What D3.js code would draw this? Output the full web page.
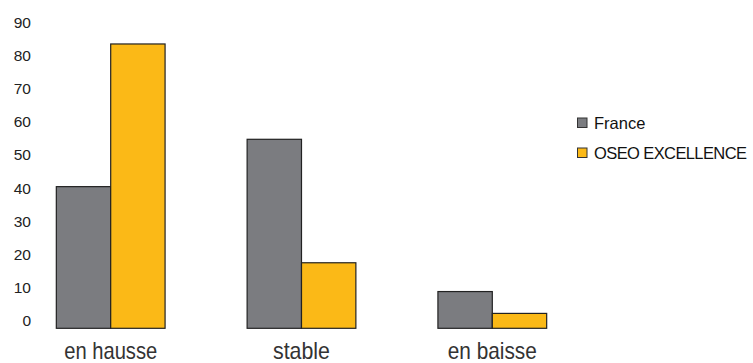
<!DOCTYPE html>
<html>
<head>
<meta charset="utf-8">
<script src="https://cdn.jsdelivr.net/npm/d3@7/dist/d3.min.js"></script>
<style>
  html, body { margin: 0; padding: 0; background: #fff; }
  svg { display: block; }
</style>
</head>
<body>
<svg id="chart" width="753" height="363"></svg>
<script>
// Share of companies by activity trend
const categories = ["en hausse", "stable", "en baisse"];
const seriesNames = ["France", "OSEO EXCELLENCE"];
const franceValues = [42.8, 57.1, 11.1];
const oseoValues = [85.9, 19.8, 4.5];
const yTicks = [0, 10, 20, 30, 40, 50, 60, 70, 80, 90];

const colors = ["#7b7c80", "#fbb917"];
const series = [franceValues, oseoValues];

const svg = d3.select("#chart");

const x = d3.scaleBand()
  .domain(categories)
  .range([15.3, 587.7])
  .paddingInner(0.43)
  .paddingOuter(0.215);

const xInner = d3.scaleBand()
  .domain(seriesNames)
  .range([0, x.bandwidth()]);

const y = d3.scaleLinear()
  .domain([0, 90])
  .range([328.3, 30.4]);

// Y axis labels only (no axis line, no ticks)
const yAxis = d3.axisLeft(y)
  .tickValues(yTicks)
  .tickSize(0)
  .tickPadding(0);

const yg = svg.append("g")
  .attr("transform", "translate(31,-7.8)")
  .call(yAxis);
yg.select(".domain").remove();
yg.selectAll("text")
  .attr("font-family", "'Liberation Sans', Arial, sans-serif")
  .attr("font-size", "15.5px")
  .attr("fill", "#222");

// Bars
const groups = svg.append("g")
  .selectAll("g")
  .data(categories)
  .join("g")
  .attr("transform", d => `translate(${x(d)},0)`);

groups.selectAll("rect")
  .data((d, i) => seriesNames.map((s, j) => ({ s, j, v: series[j][i] })))
  .join("rect")
  .attr("x", d => xInner(d.s))
  .attr("y", d => y(d.v))
  .attr("width", xInner.bandwidth())
  .attr("height", d => y(0) - y(d.v))
  .attr("fill", d => colors[d.j])
  .attr("stroke", "#222")
  .attr("stroke-width", 1.2);

// Category labels, set in a condensed face
const labelWidths = { "en hausse": 93, "stable": 57, "en baisse": 89 };
const xAxis = d3.axisBottom(x).tickSize(0).tickPadding(0);
const xg = svg.append("g")
  .call(xAxis);
xg.select(".domain").remove();
xg.selectAll("text")
  .attr("y", 359)
  .attr("dy", 0)
  .attr("font-family", "'Liberation Sans', Arial, sans-serif")
  .attr("font-size", "24px")
  .attr("fill", "#333")
  .attr("textLength", d => labelWidths[d])
  .attr("lengthAdjust", "spacingAndGlyphs");

// Legend
const legend = svg.append("g")
  .selectAll("g")
  .data(seriesNames)
  .join("g")
  .attr("transform", (d, i) => `translate(577.5,${118 + i * 30})`);

legend.append("rect")
  .attr("width", 9.5)
  .attr("height", 9.5)
  .attr("fill", (d, i) => colors[i])
  .attr("stroke", "#333")
  .attr("stroke-width", 1);

legend.append("text")
  .attr("x", 16.5)
  .attr("y", 5)
  .attr("dy", "0.36em")
  .attr("font-family", "'Liberation Sans', Arial, sans-serif")
  .attr("font-size", "16.5px")
  .attr("fill", "#111")
  .attr("letter-spacing", (d, i) => i === 1 ? "-0.6px" : "0px")
  .text(d => d);
</script>
</body>
</html>
